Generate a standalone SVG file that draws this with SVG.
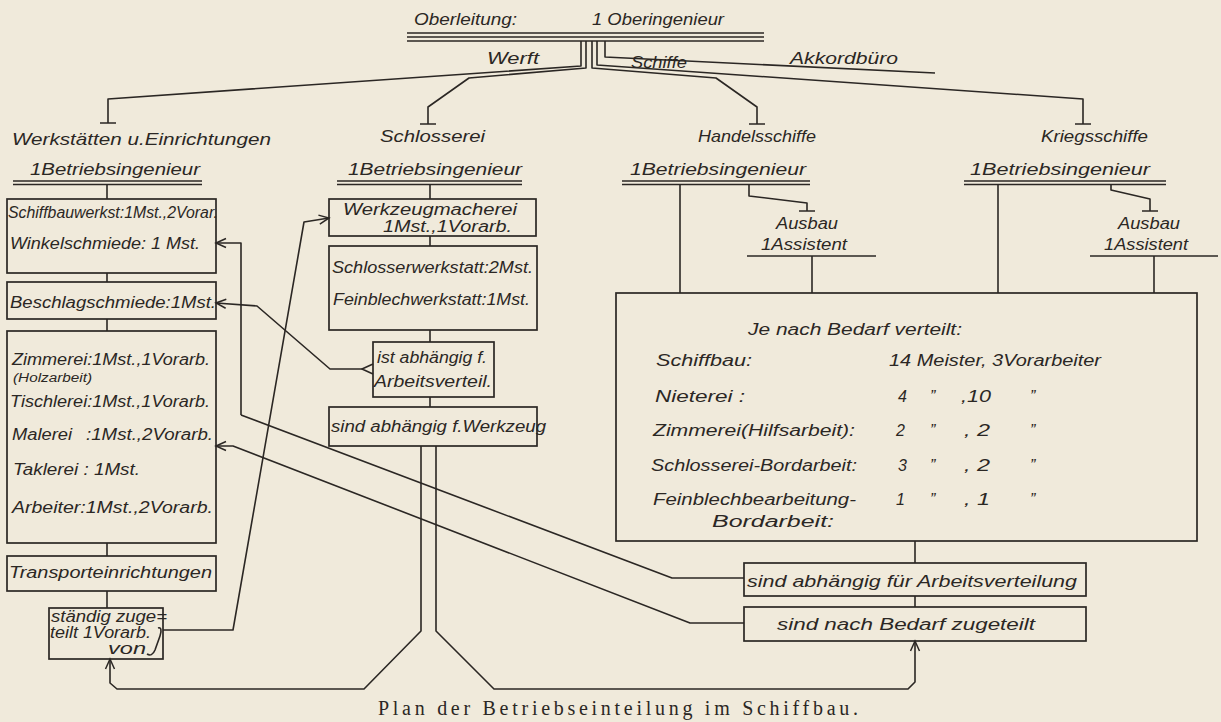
<svg xmlns="http://www.w3.org/2000/svg" width="1221" height="722" viewBox="0 0 1221 722">
<defs>
<style>
.bg{fill:#f0eadb}
.ln{fill:none;stroke:#2b2724;stroke-width:1.6;stroke-linejoin:round}
.bx{fill:none;stroke:#2b2724;stroke-width:1.7}
text{font-family:"Liberation Sans","DejaVu Sans",sans-serif;font-style:italic;fill:#2b2724;font-size:16px}
.lb{font-size:17px}
.sm{font-size:12px}
.cap{font-family:"Liberation Serif","DejaVu Serif",serif;font-style:normal;font-size:20px}
</style>
<marker id="ah" viewBox="-11 -6 13 12" refX="0" refY="0" markerWidth="13" markerHeight="12" markerUnits="userSpaceOnUse" orient="auto">
<path d="M-10,-4.5 L0,0 L-10,4.5" fill="none" stroke="#2b2724" stroke-width="1.5"/>
</marker>
</defs>
<rect class="bg" x="0" y="0" width="1221" height="722"/>

<g id="oberleitung">
<text class="lb" x="414" y="25" textLength="103" lengthAdjust="spacingAndGlyphs">Oberleitung:</text>
<text class="lb" x="592" y="25" textLength="132" lengthAdjust="spacingAndGlyphs">1 Oberingenieur</text>
<path class="ln" d="M407,33H764M407,37H764M407,41H764"/>
</g>

<g id="labels-top">
<text class="lb" x="487" y="64" textLength="52" lengthAdjust="spacingAndGlyphs">Werft</text>
<text class="lb" x="631" y="68" textLength="56" lengthAdjust="spacingAndGlyphs">Schiffe</text>
<text class="lb" x="790" y="64" textLength="108" lengthAdjust="spacingAndGlyphs">Akkordbüro</text>
</g>

<g id="werkstaetten">
<text class="lb" x="12" y="145" textLength="259" lengthAdjust="spacingAndGlyphs">Werkstätten u.Einrichtungen</text>
<text class="lb" x="30" y="175" textLength="170" lengthAdjust="spacingAndGlyphs">1Betriebsingenieur</text>
<path class="ln" d="M13,181H202M13,184.5H202"/>
</g>
<g id="w-box1">
<rect class="bx" x="7" y="199" width="209" height="74"/>
<text x="8" y="218" textLength="210" lengthAdjust="spacingAndGlyphs">Schiffbauwerkst:1Mst.,2Vorar.</text>
<text x="10" y="249" textLength="190" lengthAdjust="spacingAndGlyphs">Winkelschmiede: 1 Mst.</text>
</g>
<g id="w-box2">
<rect class="bx" x="7" y="282" width="209" height="37"/>
<text x="10" y="308" textLength="206" lengthAdjust="spacingAndGlyphs">Beschlagschmiede:1Mst.</text>
</g>
<g id="w-box3">
<rect class="bx" x="7" y="331" width="209" height="212"/>
<text x="12" y="365" textLength="198" lengthAdjust="spacingAndGlyphs">Zimmerei:1Mst.,1Vorarb.</text>
<text class="sm" x="13" y="382" textLength="79" lengthAdjust="spacingAndGlyphs">(Holzarbeit)</text>
<text x="10" y="407" textLength="200" lengthAdjust="spacingAndGlyphs">Tischlerei:1Mst.,1Vorarb.</text>
<text x="12" y="440" textLength="60" lengthAdjust="spacingAndGlyphs">Malerei</text>
<text x="86" y="440" textLength="127" lengthAdjust="spacingAndGlyphs">:1Mst.,2Vorarb.</text>
<text x="13" y="475" textLength="127" lengthAdjust="spacingAndGlyphs">Taklerei : 1Mst.</text>
<text x="12" y="513" textLength="201" lengthAdjust="spacingAndGlyphs">Arbeiter:1Mst.,2Vorarb.</text>
</g>
<g id="w-box4">
<rect class="bx" x="7" y="556" width="209" height="35"/>
<text x="9" y="578" textLength="203" lengthAdjust="spacingAndGlyphs">Transporteinrichtungen</text>
</g>
<g id="w-box5">
<rect class="bx" x="49" y="608" width="114" height="51"/>
<text x="51" y="622" textLength="116" lengthAdjust="spacingAndGlyphs">ständig zuge=</text>
<text x="50" y="638" textLength="101" lengthAdjust="spacingAndGlyphs">teilt 1Vorarb.</text>
<text x="108" y="654" textLength="38" lengthAdjust="spacingAndGlyphs">von</text>
<path class="ln" d="M158,628C161,627 162,630 160,636L155,650C153,655 150,656 147,654" stroke-width="1.2"/>
</g>

<g id="schlosserei">
<text class="lb" x="380" y="142" textLength="105" lengthAdjust="spacingAndGlyphs">Schlosserei</text>
<text class="lb" x="348" y="175" textLength="174" lengthAdjust="spacingAndGlyphs">1Betriebsingenieur</text>
<path class="ln" d="M337,181H522M337,184.5H522"/>
</g>
<g id="s-box1">
<rect class="bx" x="329" y="199" width="207" height="37"/>
<text x="343" y="215" textLength="174" lengthAdjust="spacingAndGlyphs">Werkzeugmacherei</text>
<text x="383" y="232" textLength="129" lengthAdjust="spacingAndGlyphs">1Mst.,1Vorarb.</text>
</g>
<g id="s-box2">
<rect class="bx" x="329" y="246" width="208" height="84"/>
<text x="332" y="273" textLength="201" lengthAdjust="spacingAndGlyphs">Schlosserwerkstatt:2Mst.</text>
<text x="333" y="305" textLength="197" lengthAdjust="spacingAndGlyphs">Feinblechwerkstatt:1Mst.</text>
</g>
<g id="s-box3">
<rect class="bx" x="373" y="342" width="121" height="55"/>
<text x="377" y="363" textLength="110" lengthAdjust="spacingAndGlyphs">ist abhängig f.</text>
<text x="374" y="387" textLength="118" lengthAdjust="spacingAndGlyphs">Arbeitsverteil.</text>
</g>
<g id="s-box4">
<rect class="bx" x="329" y="407" width="208" height="39"/>
<text x="331" y="432" textLength="215" lengthAdjust="spacingAndGlyphs">sind abhängig f.Werkzeug</text>
</g>

<g id="handelsschiffe">
<text class="lb" x="698" y="142" textLength="118" lengthAdjust="spacingAndGlyphs">Handelsschiffe</text>
<text class="lb" x="630" y="175" textLength="176" lengthAdjust="spacingAndGlyphs">1Betriebsingenieur</text>
<path class="ln" d="M622,181H810M622,184.5H810"/>
</g>
<g id="h-ausbau">
<text x="776" y="229" textLength="62" lengthAdjust="spacingAndGlyphs">Ausbau</text>
<text x="761" y="250" textLength="86" lengthAdjust="spacingAndGlyphs">1Assistent</text>
<path class="ln" d="M747,256H876"/>
</g>

<g id="kriegsschiffe">
<text class="lb" x="1041" y="142" textLength="107" lengthAdjust="spacingAndGlyphs">Kriegsschiffe</text>
<text class="lb" x="970" y="175" textLength="180" lengthAdjust="spacingAndGlyphs">1Betriebsingenieur</text>
<path class="ln" d="M964,181H1166M964,184.5H1166"/>
</g>
<g id="k-ausbau">
<text x="1118" y="229" textLength="62" lengthAdjust="spacingAndGlyphs">Ausbau</text>
<text x="1104" y="250" textLength="84" lengthAdjust="spacingAndGlyphs">1Assistent</text>
<path class="ln" d="M1090,256H1218"/>
</g>

<g id="verteilung">
<rect class="bx" x="616" y="293" width="581" height="248"/>
<text x="748" y="335" textLength="214" lengthAdjust="spacingAndGlyphs">Je nach Bedarf verteilt:</text>
<text x="656" y="366" textLength="96" lengthAdjust="spacingAndGlyphs">Schiffbau:</text>
<text x="889" y="366" textLength="212" lengthAdjust="spacingAndGlyphs">14 Meister, 3Vorarbeiter</text>
<text x="655" y="402" textLength="90" lengthAdjust="spacingAndGlyphs">Nieterei :</text>
<text x="898" y="402">4</text><text x="930" y="402">”</text><text x="961" y="402" textLength="30" lengthAdjust="spacingAndGlyphs">,10</text><text x="1030" y="402">”</text>
<text x="653" y="436" textLength="202" lengthAdjust="spacingAndGlyphs">Zimmerei(Hilfsarbeit):</text>
<text x="896" y="436">2</text><text x="930" y="436">”</text><text x="964" y="436" textLength="26" lengthAdjust="spacingAndGlyphs">, 2</text><text x="1030" y="436">”</text>
<text x="651" y="471" textLength="206" lengthAdjust="spacingAndGlyphs">Schlosserei-Bordarbeit:</text>
<text x="898" y="471">3</text><text x="930" y="471">”</text><text x="964" y="471" textLength="26" lengthAdjust="spacingAndGlyphs">, 2</text><text x="1030" y="471">”</text>
<text x="653" y="505" textLength="203" lengthAdjust="spacingAndGlyphs">Feinblechbearbeitung-</text>
<text x="896" y="505">1</text><text x="930" y="505">”</text><text x="964" y="505" textLength="26" lengthAdjust="spacingAndGlyphs">, 1</text><text x="1030" y="505">”</text>
<text x="712" y="527" textLength="122" lengthAdjust="spacingAndGlyphs">Bordarbeit:</text>
</g>
<g id="r-box1">
<rect class="bx" x="744" y="563" width="342" height="33"/>
<text x="747" y="587" textLength="330" lengthAdjust="spacingAndGlyphs">sind abhängig für Arbeitsverteilung</text>
</g>
<g id="r-box2">
<rect class="bx" x="744" y="607" width="342" height="34"/>
<text x="777" y="630" textLength="258" lengthAdjust="spacingAndGlyphs">sind nach Bedarf zugeteilt</text>
</g>

<g id="connectors">
<path class="ln" d="M581,41V66L108,99V123M100,123H116"/>
<path class="ln" d="M586,41V68L469,78L428,107V124M420,124H436"/>
<path class="ln" d="M592,41V68L716,78L757,107V124M749,124H765"/>
<path class="ln" d="M597,41V65L1083,99V124M1075,124H1091"/>
<path class="ln" d="M605,41V57L935,73"/>
<path class="ln" d="M107,184.5V199M107,273V282M107,319V331M107,543V556M107,591V608"/>
<path class="ln" d="M430,184.5V199M430,236V246M430,330V342M430,397V407"/>
<path class="ln" d="M680,184.5V293"/>
<path class="ln" d="M749,184.5V196L807,203V211M799,211H815"/>
<path class="ln" d="M812,256V293"/>
<path class="ln" d="M998,184.5V293"/>
<path class="ln" d="M1111,184.5V190L1150,199V211M1142,211H1158"/>
<path class="ln" d="M1154,256V293"/>
<path class="ln" d="M915,541V563M915,596V607"/>
<path class="ln" d="M241,415V243H216" marker-end="url(#ah)"/>
<path class="ln" d="M744,578H672L241,415"/>
<path class="ln" d="M744,623H690L233,446H216" marker-end="url(#ah)"/>
<path class="ln" d="M362,369H330L257,306L216,303" marker-end="url(#ah)"/>
<path class="ln" d="M373,364L362,369L373,374"/>
<path class="ln" d="M163,630H233L304,222L329,218" marker-end="url(#ah)"/>
<path class="ln" d="M421,446V631L364,689H117L110,683V659" marker-end="url(#ah)"/>
<path class="ln" d="M436,446V631L494,689H908L915,682V641" marker-end="url(#ah)"/>
</g>

<text class="cap" x="378" y="715" textLength="480" lengthAdjust="spacing">Plan der Betriebseinteilung im Schiffbau.</text>
</svg>
